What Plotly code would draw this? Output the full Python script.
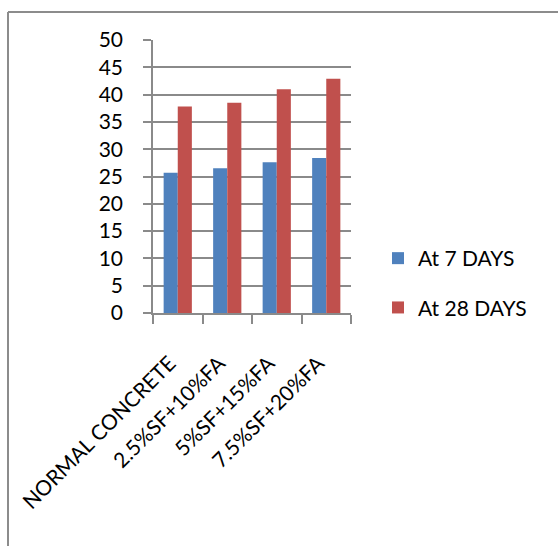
import plotly.graph_objects as go

# Compressive strength (N/mm²) by mix
mixes = ["NORMAL CONCRETE", "2.5%SF+10%FA", "5%SF+15%FA", "7.5%SF+20%FA"]
days_7 = [25.7, 26.5, 27.6, 28.4]
days_28 = [37.8, 38.5, 41.0, 42.9]

W, H = 558, 546
L, R, T, B = 153, 207, 40, 233
pw, ph = W - L - R, H - T - B

def px_x(x):
    return (x - L) / pw

def px_y(y):
    return (H - B - y) / ph

FONT = "Lato"
FS = 21
GRID = "#8a8a8a"

fig = go.Figure()
fig.add_trace(go.Bar(name="At 7 DAYS", x=mixes, y=days_7,
                     marker=dict(color="#4F81BD", line=dict(width=0)),
                     legendgroup="a"))
fig.add_trace(go.Bar(name="At 28 DAYS", x=mixes, y=days_28,
                     marker=dict(color="#C0504D", line=dict(width=0)),
                     legendgroup="b"))

fig.update_layout(
    width=W, height=H,
    margin=dict(l=L, r=R, t=T, b=B, pad=0),
    paper_bgcolor="white", plot_bgcolor="white",
    barmode="group", bargap=0.43, bargroupgap=0,
    font=dict(family=FONT, size=FS, color="black"),
    showlegend=True,
    legend=dict(x=px_x(378), y=px_y(238), xanchor="left", yanchor="top",
                font=dict(family=FONT, size=FS, color="black"),
                tracegroupgap=19, bgcolor="rgba(0,0,0,0)"),
    xaxis=dict(showgrid=False, showline=True, linecolor=GRID, linewidth=1.5,
               ticks="outside", ticklen=9, tickcolor=GRID, tickwidth=1.5,
               tickson="boundaries", tickangle=-45,
               ticklabelstandoff=28, ticklabelshift=-8,
               tickfont=dict(family=FONT, size=FS, color="black")),
    yaxis=dict(range=[0, 50], dtick=5, showgrid=True, gridcolor=GRID,
               gridwidth=1.5, showline=True, linecolor=GRID, linewidth=1.5,
               ticks="outside", ticklen=8, tickcolor=GRID, tickwidth=1.5,
               zeroline=False, ticklabelstandoff=16,
               tickfont=dict(family=FONT, size=FS, color="black")),
    shapes=[
        # chart frame: top and left edges
        dict(type="line", xref="paper", yref="paper",
             x0=px_x(8), x1=px_x(W + 5), y0=px_y(12), y1=px_y(12),
             line=dict(color="#8c8c8c", width=2)),
        dict(type="line", xref="paper", yref="paper",
             x0=px_x(8), x1=px_x(8), y0=px_y(12), y1=px_y(H + 5),
             line=dict(color="#8c8c8c", width=2)),
    ],
)

fig.write_html("out.html")
